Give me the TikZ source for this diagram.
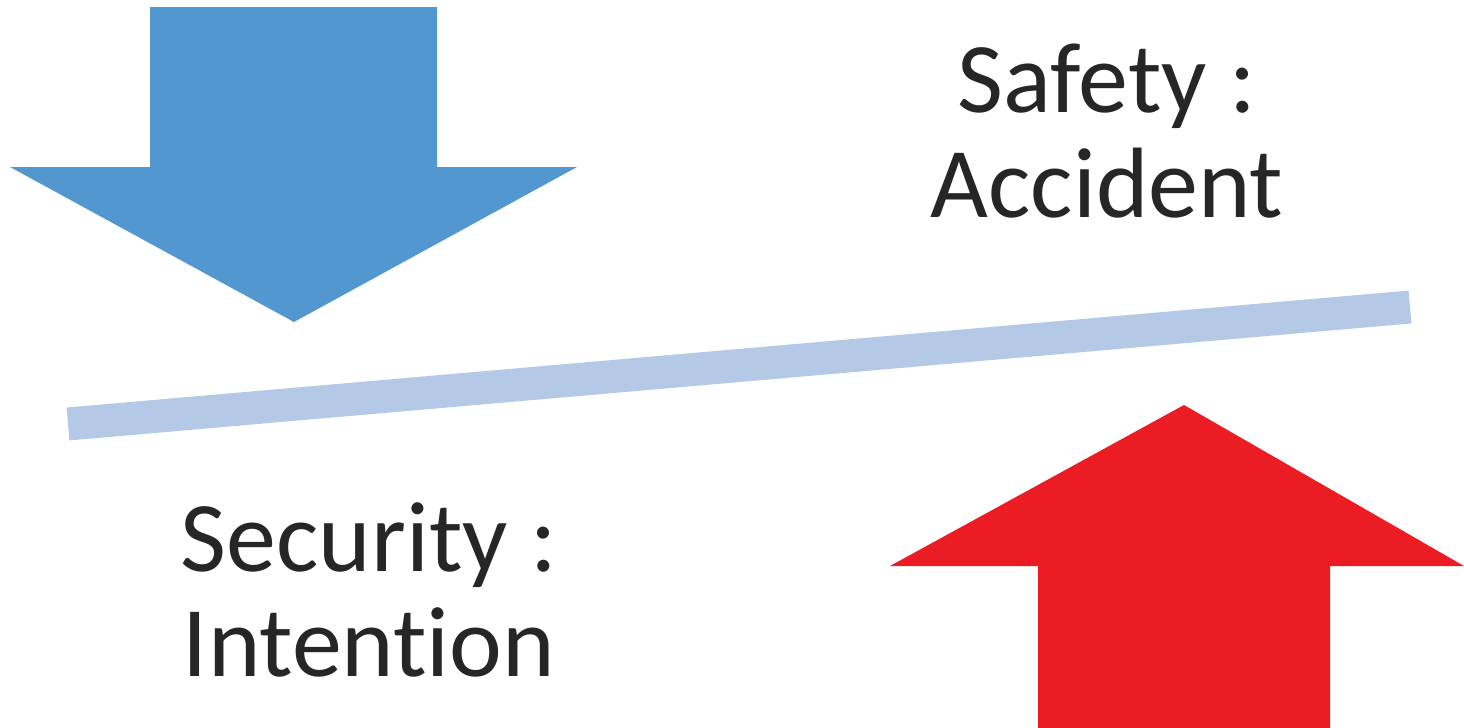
\documentclass[tikz,border=0pt]{standalone}
\usepackage{fontspec}
\setmainfont[Ligatures=NoCommon]{Carlito}
\definecolor{arrowblue}{HTML}{5397D1}
\definecolor{arrowred}{HTML}{EC1C24}
\definecolor{barblue}{HTML}{B4C9E6}
\begin{document}
\begin{tikzpicture}[x=0.5pt,y=-0.5pt]
			\useasboundingbox (0,0) rectangle (1464,728);
			\tikzset{label/.style={align=center,text=black!85,font=\fontsize{50}{52.5}\selectfont,inner sep=0pt}}
			\fill [arrowblue] (150,7) -- (437,7) -- (437,167) -- (577,167) -- (294,322) -- (10,167) -- (150,167) -- cycle;
			\fill [arrowred] (1038,728) -- (1038,566) -- (890,566) -- (1184,405) -- (1464,566) -- (1330,566) -- (1330,728) -- cycle;
			\coordinate (barL) at (68,424);
			\coordinate (barR) at (1410,307);
			\draw [barblue,line width=16.5pt] (barL) -- (barR);
			\node [label] (safety) at (1107,131) {Safety :\\Accident};
			\node [label] (security) at (369,590) {Security :\\Intention};
			\end{tikzpicture}
\end{document}
